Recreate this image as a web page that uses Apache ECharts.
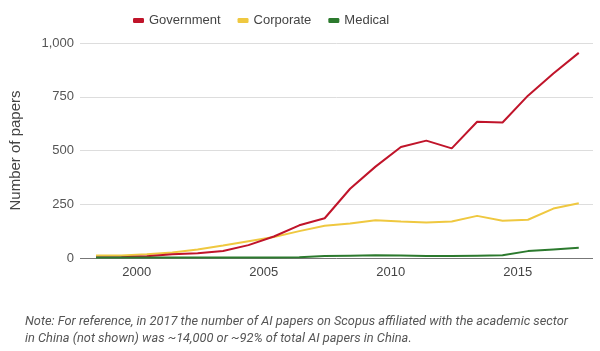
<!DOCTYPE html>
<html>
<head>
<meta charset="utf-8">
<script src="https://cdn.jsdelivr.net/npm/echarts@6/dist/echarts.min.js"></script>
<style>
  html, body { margin: 0; padding: 0; background: #fff; }
  #main { width: 600px; height: 351px; }
</style>
</head>
<body>
<div id="main"></div>
<script>
// years of data, points sit a bit past the year tick like the original
const years = [1998, 1999, 2000, 2001, 2002, 2003, 2004, 2005, 2006, 2007,
  2008, 2009, 2010, 2011, 2012, 2013, 2014, 2015, 2016, 2017];
const government = [2, 3, 8, 18, 22, 33, 60, 100, 152, 185,
  322, 425, 516, 546, 510, 634, 630, 755, 858, 954];
const corporate = [12, 12, 18, 26, 40, 58, 78, 98, 125, 150,
  160, 176, 170, 165, 170, 196, 173, 178, 230, 255];
const medical = [2, 2, 2, 2, 2, 2, 2, 2, 3, 9,
  11, 13, 12, 9, 9, 11, 13, 32, 40, 48];
const yearTicks = [2000, 2005, 2010, 2015];
const noteText = "Note: For reference, in 2017 the number of AI papers on Scopus affiliated with the academic sector\nin China (not shown) was ~14,000 or ~92% of total AI papers in China.";

const chart = echarts.init(document.getElementById("main"));
const pts = (vals) => vals.map((v, i) => [years[i] + 0.4, v]);

const font = "'Liberation Sans', Arial, sans-serif";

const option = {
  animation: false,
  backgroundColor: "#fff",
  textStyle: { fontFamily: font },
  legend: {
    top: 9,
    left: 128,
    itemWidth: 11,
    itemHeight: 5,
    itemGap: 17,
    icon: "roundRect",
    textStyle: { fontSize: 13, color: "#444", fontFamily: font },
    data: ["Government", "Corporate", "Medical"]
  },
  grid: { left: 78, right: 7, top: 43, bottom: 93 },
  xAxis: {
    type: "value",
    min: 1997.77,
    max: 2017.96,
    axisLine: { show: false },
    axisTick: { show: false },
    splitLine: { show: false },
    axisLabel: {
      customValues: yearTicks,
      color: "#444",
      fontSize: 13,
      margin: 8,
      fontFamily: font,
      formatter: (v) => String(v)
    }
  },
  yAxis: {
    type: "value",
    min: 0,
    max: 1000,
    interval: 250,
    name: "Number of papers",
    nameLocation: "middle",
    nameGap: 57,
    nameTextStyle: { fontSize: 15, color: "#444", fontFamily: font },
    axisLine: { show: false },
    axisTick: { show: false },
    axisLabel: {
      color: "#555",
      fontSize: 13,
      margin: 6,
      fontFamily: font,
      formatter: (v) => v.toLocaleString("en-US")
    },
    splitLine: { lineStyle: { color: "#ddd", width: 1 } }
  },
  series: [
    {
      name: "Government",
      type: "line",
      data: pts(government),
      showSymbol: false,
      color: "#c0142a",
      lineStyle: { width: 2, color: "#c0142a" },
      z: 4
    },
    {
      name: "Corporate",
      type: "line",
      data: pts(corporate),
      showSymbol: false,
      color: "#efc840",
      lineStyle: { width: 2, color: "#efc840" },
      z: 3
    },
    {
      name: "Medical",
      type: "line",
      data: pts(medical),
      showSymbol: false,
      color: "#2c7a2e",
      lineStyle: { width: 2, color: "#2c7a2e" },
      z: 5,
      markLine: {
        silent: true,
        symbol: "none",
        label: { show: false },
        lineStyle: { color: "#777", width: 1, type: "solid" },
        data: [{ yAxis: 0 }]
      }
    }
  ],
  graphic: [
    {
      type: "text",
      left: 25,
      top: 313,
      style: {
        text: noteText,
        fontFamily: "Roboto, sans-serif",
        fontSize: 12.8,
        fontStyle: "italic",
        fill: "#555",
        lineHeight: 17
      }
    }
  ]
};

chart.setOption(option);
</script>
</body>
</html>
